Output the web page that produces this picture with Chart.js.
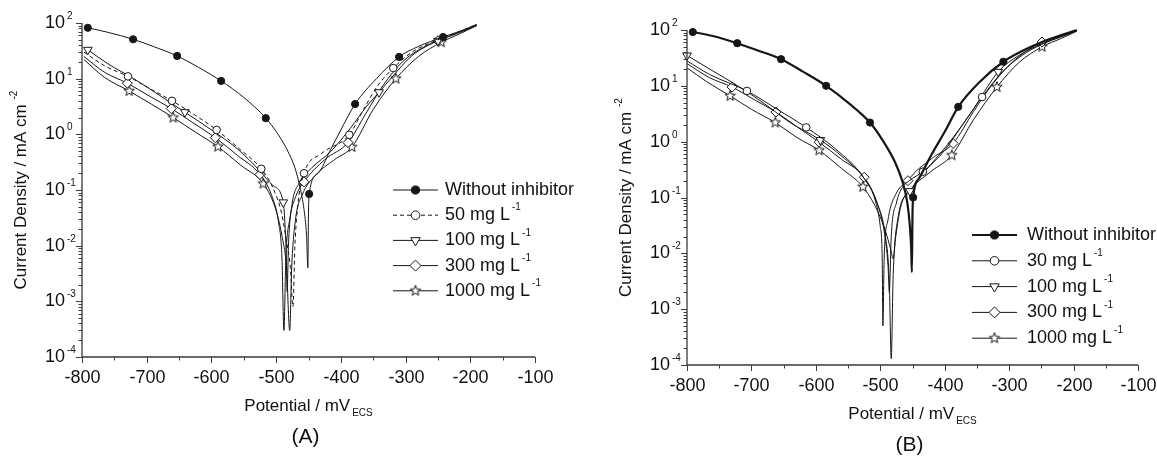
<!DOCTYPE html>
<html>
<head>
<meta charset="utf-8">
<script src="https://cdn.jsdelivr.net/npm/chart.js@4.4.1/dist/chart.umd.min.js"></script>
<style>
  html, body { margin: 0; padding: 0; background: #fff; }
  #wrap { position: relative; width: 1157px; height: 461px; }
  canvas { position: absolute; top: 0; }
  #chartA { left: 0; }
  #chartB { left: 578px; }
</style>
</head>
<body>
<div id="wrap">
  <canvas id="chartA" width="578" height="461"></canvas>
  <canvas id="chartB" width="579" height="461"></canvas>
</div>
<script>
// axis ticks
const xTicks = [-800, -700, -600, -500, -400, -300, -200, -100];
const yExps = [-4, -3, -2, -1, 0, 1, 2];

// legend labels
const labelsA = ['Without inhibitor', '50 mg L', '100 mg L', '300 mg L', '1000 mg L'];
const labelsB = ['Without inhibitor', '30 mg L', '100 mg L', '300 mg L', '1000 mg L'];

// panel A : [potential mV, current mA cm-2]
const a_blank = [[-791,82],[-760,68],[-721,51],[-690,38],[-653,25.6],[-620,16],[-585,9.1],[-550,4.6],[-516,1.95],[-497,1.0],[-482,0.5],[-471,0.25],[-463,0.11],[-457,0.045],[-453,0.015],[-451,0.004],[-450,0.04],[-449,0.085],[-435,0.2],[-417,0.5],[-400,1.2],[-378,3.5],[-345,10],[-310,24.6],[-280,38],[-242,56],[-215,72],[-190,95]];
const a_50 = [[-797,30],[-765,17],[-729,11],[-695,6.6],[-661,4],[-625,2.2],[-592,1.2],[-557,0.55],[-523,0.24],[-505,0.11],[-492,0.04],[-484,0.012],[-478,0.004],[-474,0.0008],[-471,0.01],[-466,0.06],[-457,0.2],[-430,0.45],[-387,0.98],[-365,2.8],[-343,7.5],[-319,15.5],[-290,30],[-250,50],[-220,68],[-190,92]];
const a_100 = [[-791,33],[-760,18.5],[-720,10],[-680,5],[-641,2.5],[-600,1.2],[-560,0.55],[-525,0.22],[-505,0.12],[-489,0.06],[-486,0.02],[-484,0.005],[-483,0.0015],[-481,0.01],[-476,0.05],[-465,0.13],[-445,0.25],[-415,0.5],[-385,1.3],[-360,3.2],[-341,5.7],[-320,11],[-290,26],[-250,48],[-220,65],[-190,90]];
const a_300 = [[-797,25],[-765,13],[-730,8.3],[-695,4.8],[-662,2.9],[-628,1.6],[-594,0.87],[-560,0.42],[-525,0.19],[-507,0.08],[-496,0.025],[-491,0.006],[-488,0.0003],[-485,0.006],[-479,0.03],[-469,0.08],[-457,0.14],[-425,0.35],[-389,0.71],[-362,2.3],[-335,7.5],[-305,20],[-270,38],[-250,48],[-220,66],[-190,92]];
const a_1000 = [[-797,22],[-765,10.5],[-727,6],[-693,3.5],[-659,2.0],[-625,1.1],[-590,0.6],[-555,0.28],[-520,0.13],[-502,0.05],[-491,0.015],[-484,0.004],[-479,0.0003],[-476,0.004],[-470,0.03],[-460,0.08],[-440,0.18],[-410,0.35],[-383,0.59],[-350,2.8],[-315,10],[-280,25],[-245,45],[-215,65],[-190,90]];

// panel B
const b_blank = [[-791,92],[-760,78],[-722,58],[-690,43],[-654,30],[-620,18],[-584,10],[-550,5],[-516,2.2],[-495,1.0],[-478,0.45],[-466,0.2],[-458,0.08],[-454,0.03],[-452,0.012],[-451,0.0046],[-450,0.05],[-449,0.1],[-440,0.22],[-420,0.6],[-400,1.5],[-379,4.2],[-345,12],[-309,27],[-280,42],[-249,61],[-220,80],[-195,100]];
const b_30 = [[-800,28],[-765,16],[-707,8.1],[-660,3.8],[-615,1.8],[-570,0.75],[-525,0.22],[-508,0.09],[-500,0.03],[-497,0.008],[-496,0.0005],[-494,0.008],[-488,0.04],[-475,0.12],[-455,0.2],[-434,0.29],[-400,0.7],[-370,2.2],[-342,6.3],[-310,18],[-280,35],[-250,55],[-220,75],[-195,97]];
const b_100 = [[-800,35],[-760,18.5],[-720,9.8],[-680,4.8],[-640,2.2],[-593,1.07],[-560,0.55],[-525,0.22],[-505,0.08],[-492,0.02],[-486,0.003],[-483,0.00013],[-480,0.004],[-473,0.04],[-454,0.13],[-425,0.35],[-395,0.9],[-360,3.2],[-317,17.8],[-285,35],[-250,56],[-220,76],[-195,97]];
const b_300 = [[-800,25],[-765,14],[-730,9.5],[-695,5.6],[-662,3.4],[-628,1.8],[-595,0.98],[-560,0.48],[-525,0.23],[-505,0.08],[-494,0.025],[-488,0.006],[-486,0.002],[-483,0.02],[-475,0.08],[-457,0.2],[-420,0.5],[-387,0.93],[-355,3.5],[-325,11],[-290,30],[-249,61],[-220,79],[-195,98]];
const b_1000 = [[-800,21],[-770,12],[-733,6.6],[-700,3.8],[-663,2.2],[-630,1.2],[-595,0.7],[-560,0.33],[-527,0.155],[-505,0.06],[-492,0.025],[-484,0.012],[-480,0.008],[-476,0.02],[-468,0.07],[-450,0.15],[-420,0.3],[-389,0.57],[-355,2.5],[-319,9.5],[-285,26],[-249,50],[-220,70],[-195,95]];

// potentials that carry a symbol
const mk_a_blank = [-791,-721,-653,-585,-516,-449,-378,-310,-242];
const mk_a_50 = [-729,-661,-592,-523,-457,-387,-319];
const mk_a_100 = [-791,-641,-489,-341,-250];
const mk_a_300 = [-730,-662,-594,-525,-457,-389,-250];
const mk_a_1000 = [-727,-659,-590,-520,-383,-315,-245];
const mk_b_blank = [-791,-722,-654,-584,-516,-449,-379,-309];
const mk_b_30 = [-707,-615,-434,-342];
const mk_b_100 = [-800,-593,-454,-317];
const mk_b_300 = [-730,-662,-595,-525,-457,-387,-249];
const mk_b_1000 = [-733,-663,-595,-527,-389,-319,-249];

const FONT = "'Liberation Sans', Arial, sans-serif";
const INK = '#161616';
const AXIS = '#3a3a3a';

function starImage(r) {
  const c = document.createElement('canvas');
  const s = Math.ceil(r * 2 + 3);
  c.width = c.height = s;
  const g = c.getContext('2d');
  g.beginPath();
  for (let k = 0; k < 10; k++) {
    const rr = k % 2 ? r * 0.42 : r;
    const a = -Math.PI / 2 + k * Math.PI / 5;
    const px = s / 2 + rr * Math.cos(a), py = s / 2 + rr * Math.sin(a);
    if (k) g.lineTo(px, py); else g.moveTo(px, py);
  }
  g.closePath();
  g.fillStyle = '#fff'; g.fill();
  g.strokeStyle = INK; g.lineWidth = 1; g.stroke();
  return c;
}
const star = starImage(5.5);

const styles = [
  { pointStyle: 'circle', radius: 3.6, fill: INK, rot: 0 },
  { pointStyle: 'circle', radius: 3.8, fill: '#fff', rot: 0 },
  { pointStyle: 'triangle', radius: 5, fill: '#fff', rot: 180 },
  { pointStyle: 'rectRot', radius: 5, fill: '#fff', rot: 0 },
  { pointStyle: star, radius: 5, fill: '#fff', rot: 0 }
];

function dataset(pts, marks, st, width, dash) {
  return {
    data: pts.map(p => ({ x: p[0], y: p[1] })),
    borderColor: INK,
    borderWidth: width,
    borderDash: dash || [],
    pointStyle: st.pointStyle,
    pointRotation: st.rot,
    pointRadius: c => marks.includes(pts[c.dataIndex][0]) ? st.radius : 0,
    pointHoverRadius: 0,
    pointBackgroundColor: st.fill,
    pointBorderColor: INK,
    pointBorderWidth: 1,
    cubicInterpolationMode: 'monotone',
    fill: false,
    clip: false
  };
}

// text with a raised (sup) or lowered (sub) small part
function richText(ctx, x, y, base, small, size, shift, align) {
  ctx.font = size + 'px ' + FONT;
  const w1 = ctx.measureText(base).width;
  ctx.font = Math.round(size * 0.58) + 'px ' + FONT;
  const w2 = small ? ctx.measureText(small).width + 2 : 0;
  let x0 = x;
  if (align === 'center') x0 = x - (w1 + w2) / 2;
  if (align === 'right') x0 = x - w1;
  ctx.textAlign = 'left';
  ctx.textBaseline = 'middle';
  ctx.font = size + 'px ' + FONT;
  ctx.fillText(base, x0, y);
  if (small) {
    ctx.font = Math.round(size * 0.58) + 'px ' + FONT;
    ctx.fillText(small, x0 + w1 + 2, y + shift * size);
  }
}

const framePlugin = {
  id: 'frame',
  afterDraw(chart, args, o) {
    const ctx = chart.ctx, xs = chart.scales.x, ys = chart.scales.y;
    const { left: L, right: R, top: T, bottom: B } = chart.chartArea;
    ctx.save();
    ctx.strokeStyle = AXIS;
    ctx.lineWidth = 1.3;
    ctx.beginPath();
    ctx.moveTo(L, T); ctx.lineTo(L, B); ctx.lineTo(R, B);
    ctx.stroke();
    ctx.lineWidth = 1;
    ctx.fillStyle = '#111';
    // x ticks
    for (let i = 0; i < xTicks.length; i++) {
      const px = Math.round(xs.getPixelForValue(xTicks[i])) + 0.5;
      ctx.beginPath(); ctx.moveTo(px, B); ctx.lineTo(px, B + 6); ctx.stroke();
      if (i < xTicks.length - 1) {
        const pm = Math.round(xs.getPixelForValue(xTicks[i] + 50)) + 0.5;
        ctx.beginPath(); ctx.moveTo(pm, B); ctx.lineTo(pm, B + 3.5); ctx.stroke();
      }
      ctx.font = '18px ' + FONT;
      ctx.textAlign = 'center'; ctx.textBaseline = 'middle';
      ctx.fillText(String(xTicks[i]), px, B + 21);
    }
    // y ticks
    yExps.forEach((e, i) => {
      const py = Math.round(ys.getPixelForValue(Math.pow(10, e))) + 0.5;
      ctx.beginPath(); ctx.moveTo(L - 6, py); ctx.lineTo(L, py); ctx.stroke();
      if (i < yExps.length - 1) {
        for (let m = 2; m < 10; m++) {
          const pm = Math.round(ys.getPixelForValue(m * Math.pow(10, e))) + 0.5;
          ctx.beginPath(); ctx.moveTo(L - 3.5, pm); ctx.lineTo(L, pm); ctx.stroke();
        }
      }
      richText(ctx, L - 17, py, '10', String(e), 18, -0.42, 'right');
    });
    // axis titles
    richText(ctx, (L + R) / 2, B + 49, 'Potential / mV', 'ECS', 17, 0.42, 'center');
    ctx.save();
    ctx.translate(L - 61, (T + B) / 2);
    ctx.rotate(-Math.PI / 2);
    richText(ctx, 0, 0, 'Current Density / mA cm', ' -2', 17, -0.42, 'center');
    ctx.restore();
    // panel tag
    ctx.font = '21px ' + FONT;
    ctx.textAlign = 'center'; ctx.textBaseline = 'middle';
    ctx.fillText(o.tag, (L + R) / 2 - 3, B + 80);
    // legend
    const lg = o.legend;
    lg.labels.forEach((txt, i) => {
      const y = lg.y + i * lg.dy;
      const ds = chart.data.datasets[i];
      const st = styles[i];
      ctx.strokeStyle = INK;
      ctx.lineWidth = ds.borderWidth;
      ctx.setLineDash(ds.borderDash);
      ctx.beginPath(); ctx.moveTo(lg.x, y); ctx.lineTo(lg.x + 45, y); ctx.stroke();
      ctx.setLineDash([]);
      ctx.lineWidth = 1;
      ctx.fillStyle = st.fill;
      Chart.helpers.drawPoint(ctx, { pointStyle: st.pointStyle, rotation: st.rot, radius: st.radius + 0.5, borderWidth: 1 }, lg.x + 22.5, y);
      ctx.fillStyle = '#111';
      richText(ctx, lg.x + lg.gap, y, txt, i ? '-1' : '', 18, -0.42, 'left');
    });
    ctx.restore();
  }
};

function makeChart(id, series, marks, widths, dashes, pad, frame) {
  return new Chart(document.getElementById(id), {
    type: 'line',
    data: {
      datasets: series.map((s, i) => dataset(s, marks[i], styles[i], widths[i], dashes[i]))
    },
    options: {
      responsive: false,
      animation: false,
      events: [],
      layout: { padding: pad },
      plugins: { legend: { display: false }, tooltip: { enabled: false }, frame: frame },
      scales: {
        x: { type: 'linear', min: -800, max: -100, display: false },
        y: { type: 'logarithmic', min: 1e-4, max: 100, display: false }
      }
    },
    plugins: [framePlugin]
  });
}

makeChart('chartA',
  [a_blank, a_50, a_100, a_300, a_1000],
  [mk_a_blank, mk_a_50, mk_a_100, mk_a_300, mk_a_1000],
  [1, 1, 1, 1, 1],
  [null, [4, 3], null, null, null],
  { left: 82, right: 43, top: 23, bottom: 104 },
  { tag: '(A)', legend: { x: 393, y: 190, dy: 25.2, gap: 52, labels: labelsA } });

makeChart('chartB',
  [b_blank, b_30, b_100, b_300, b_1000],
  [mk_b_blank, mk_b_30, mk_b_100, mk_b_300, mk_b_1000],
  [2.2, 1, 1, 1, 1],
  [null, null, null, null, null],
  { left: 109, right: 19, top: 30, bottom: 96 },
  { tag: '(B)', legend: { x: 394, y: 235, dy: 25.8, gap: 55, labels: labelsB } });
</script>
</body>
</html>
